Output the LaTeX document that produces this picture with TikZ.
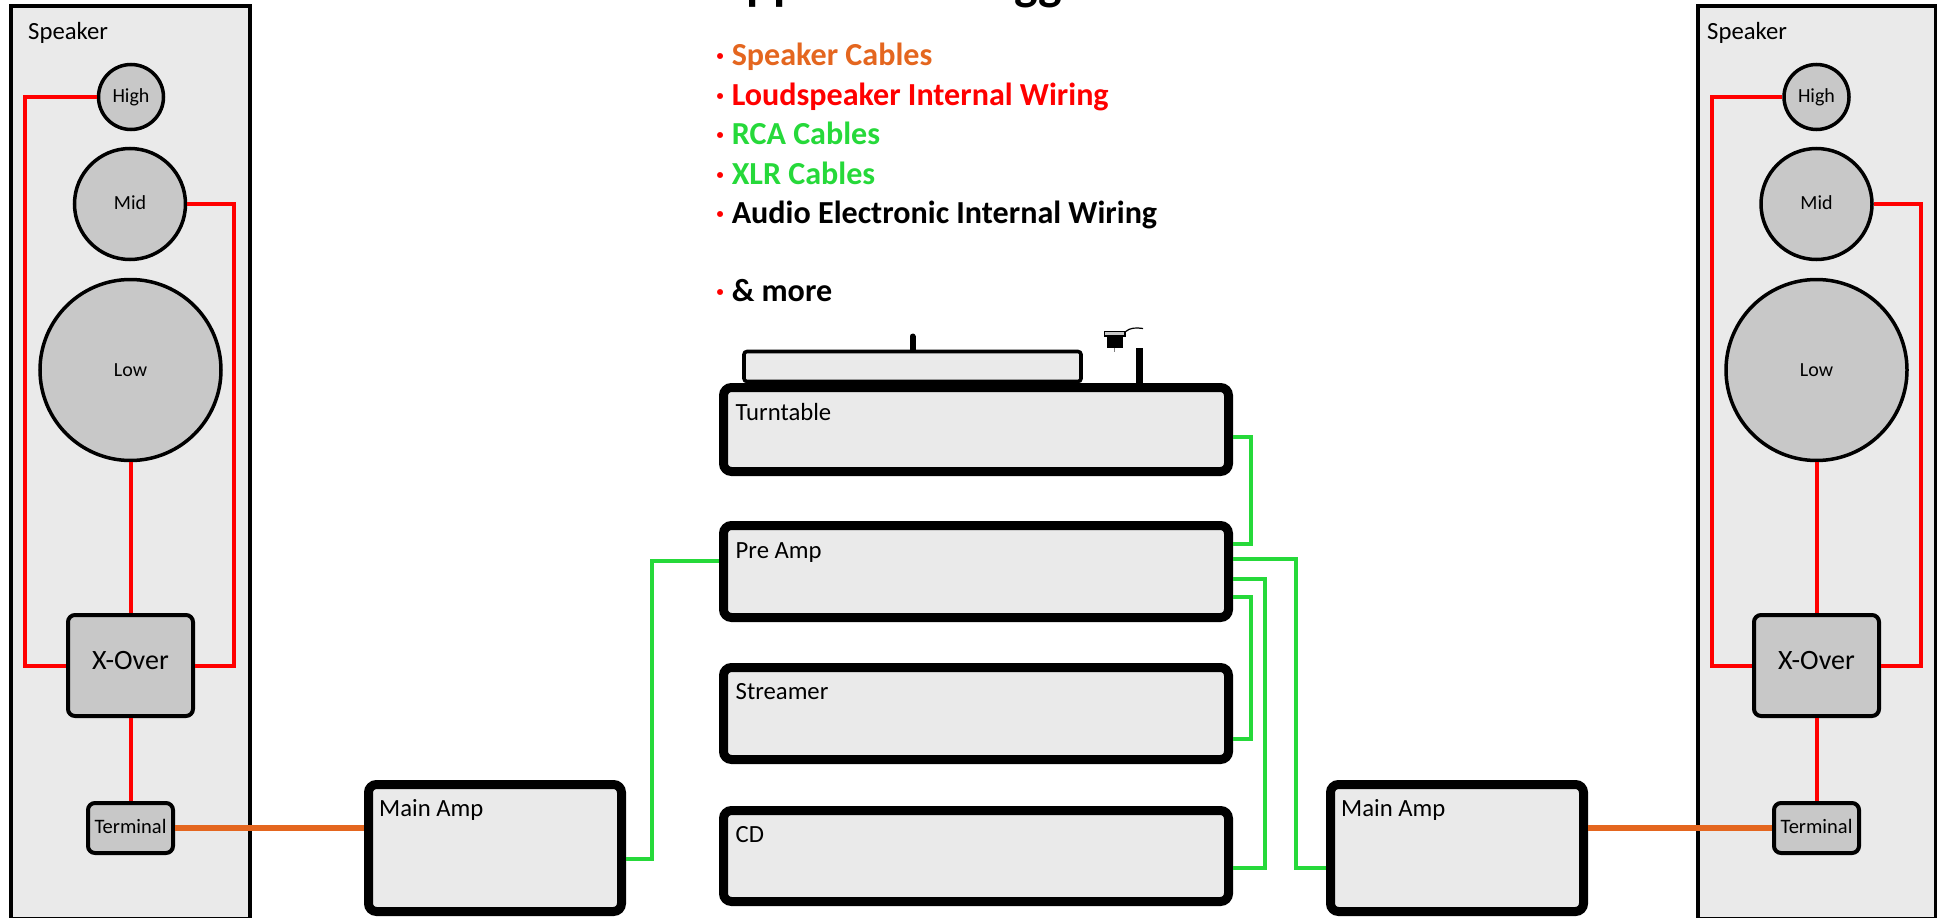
\documentclass[tikz,border=0pt]{standalone}
\usepackage{fontspec}
\setmainfont{Carlito}
\definecolor{panel}{HTML}{EAEAEA}
\definecolor{driver}{HTML}{C8C8C8}
\definecolor{wgreen}{HTML}{26D93A}
\definecolor{worange}{HTML}{E4661F}
\definecolor{wred}{HTML}{FF0000}
\newcommand{\sz}[1]{\fontsize{#1}{#1}\selectfont}
\tikzset{
  x=1pt,y=-1pt,
  cabinet/.style={draw=black,line width=3.2pt,fill=panel,inner sep=0pt},
  driverc/.style={circle,draw=black,line width=3.5pt,fill=driver,inner sep=0pt},
  hwbox/.style={rectangle,rounded corners=7pt,draw=black,line width=4pt,fill=driver,inner sep=0pt},
  unitbox/.style={rectangle,rounded corners=8pt,draw=black,line width=9pt,fill=panel,inner sep=0pt},
  lab/.style={anchor=base west,inner sep=0pt,font=\sz{24.7}},
  dlab/.style={anchor=base,inner sep=0pt,font=\sz{20}},
  leg/.style={anchor=base west,inner sep=0pt,font=\sz{32.1}\bfseries},
  redw/.style={draw=wred,line width=4pt},
  greenw/.style={draw=wgreen,line width=3.8pt},
  orangew/.style={draw=worange,line width=5.5pt},
}
\newcommand{\dotb}{\textcolor{wred}{·} }
\begin{document}
\begin{tikzpicture}
\useasboundingbox (0,0) rectangle (1939,918);
\clip (0,0) rectangle (1939,918);

% title, cut by the top edge
\node[anchor=base west,inner sep=0pt,font=\sz{50}\bfseries] (title) at (716,-0.5) {Application Suggestions};

% legend
\node[leg,text=worange] (l1) at (715.7,65.5)  {\dotb Speaker Cables};
\node[leg,text=wred]    (l2) at (715.7,105) {\dotb Loudspeaker Internal Wiring};
\node[leg,text=wgreen]  (l3) at (715.7,144) {\dotb RCA Cables};
\node[leg,text=wgreen]  (l4) at (715.7,184) {\dotb XLR Cables};
\node[leg,text=black]   (l5) at (715.7,223) {\dotb Audio Electronic Internal Wiring};
\node[leg,text=black]   (l6) at (715.7,301.5) {\dotb \& more};

% left speaker
\node[cabinet,minimum width=239pt,minimum height=913pt] (spkL) at (130.5,462.5) {};
\node[lab] (spkLt) at (28,39) {Speaker};
\node[driverc,minimum size=65pt]  (highL) at (131,97) {};
\node[driverc,minimum size=111pt] (midL)  at (130,204) {};
\node[driverc,minimum size=181pt] (lowL)  at (130.5,370) {};
\node[hwbox,minimum width=125pt,minimum height=101pt] (xoL) at (130.5,665.5) {};
\node[hwbox,minimum width=85pt,minimum height=50pt]   (teL) at (130.5,828) {};
\node[dlab] at (131,102) (highLt) {High};
\node[dlab] at (130,209) (midLt) {Mid};
\node[dlab] at (130.5,376) (lowLt) {Low};
\node[dlab,font=\sz{28}] at (130.5,669) (xoLt) {X-Over};
\node[dlab,font=\sz{20.5}] at (130.5,833) (teLt) {Terminal};
\draw[redw] (highL.west) -| (25,665.5) -- (xoL.west);
\draw[redw] (midL.east) -| (234,665.5) -- (xoL.east);
\draw[redw] (lowL.south) -- (xoL.north);
\draw[redw] (xoL.south) -- (teL.north);

% right speaker
\node[cabinet,minimum width=237.5pt,minimum height=913pt] (spkR) at (1816.75,462.5) {};
\node[lab] (spkRt) at (1707,39) {Speaker};
\node[driverc,minimum size=65pt]  (highR) at (1816.5,97) {};
\node[driverc,minimum size=111pt] (midR)  at (1816.5,204) {};
\node[driverc,minimum size=181pt] (lowR)  at (1816.5,370) {};
\node[hwbox,minimum width=125pt,minimum height=101pt] (xoR) at (1816.5,665.5) {};
\node[hwbox,minimum width=85pt,minimum height=50pt]   (teR) at (1816.5,828) {};
\node[dlab] at (1816.5,102) (highRt) {High};
\node[dlab] at (1816.5,209) (midRt) {Mid};
\node[dlab] at (1816.5,376) (lowRt) {Low};
\node[dlab,font=\sz{28}] at (1816.5,669) (xoRt) {X-Over};
\node[dlab,font=\sz{20.5}] at (1816.5,833) (teRt) {Terminal};
\draw[redw] (highR.west) -| (1712,665.5) -- (xoR.west);
\draw[redw] (midR.east) -| (1921,665.5) -- (xoR.east);
\draw[redw] (lowR.south) -- (xoR.north);
\draw[redw] (xoR.south) -- (teR.north);

% turntable top
\node[rectangle,rounded corners=3pt,draw=black,line width=3.6pt,fill=panel,inner sep=0pt,minimum width=337pt,minimum height=30pt] (platter) at (912.5,366.5) {};
\draw[line width=6pt,line cap=round] (912.5,336.5) -- (platter.north);
\draw[line width=7.5pt] (1139.5,348) -- (1139.5,386);
\fill[black] (1107,337) rectangle (1123,348);
\draw[gray,line width=1pt] (1114.5,348) -- (1114.5,352);
\draw[black,line width=1.5pt,fill=driver] (1104.5,331.5) rectangle (1125,336);
\draw[black,line width=1.2pt] (1125,332) .. controls (1130,327.5) and (1136,327.5) .. (1143,328.5);

% units
\node[unitbox,minimum width=505pt,minimum height=84pt] (tt) at (976,429.5) {};
\node[unitbox,minimum width=505pt,minimum height=92pt] (pre) at (976,571.5) {};
\node[unitbox,minimum width=505pt,minimum height=92pt] (st) at (976,713.5) {};
\node[unitbox,minimum width=505pt,minimum height=91pt] (cd) at (976,856) {};
\node[unitbox,minimum width=253pt,minimum height=127pt] (maL) at (495,848) {};
\node[unitbox,minimum width=253pt,minimum height=127pt] (maR) at (1457,848) {};
\node[lab] (ttt) at (735.5,420) {Turntable};
\node[lab] (pret) at (735.5,558) {Pre Amp};
\node[lab] (stt) at (735.5,699.5) {Streamer};
\node[lab] (cdt) at (735.5,842) {CD};
\node[lab] (maLt) at (379,816) {Main Amp};
\node[lab] (maRt) at (1341,816) {Main Amp};

% cables
\draw[orangew] (teL.east |- 0,828) -- (maL.west |- 0,828);
\draw[orangew] (maR.east |- 0,828) -- (teR.west |- 0,828);
\draw[greenw] (tt.east |- 0,437) -| (1251,544) -- (pre.east |- 0,544);
\draw[greenw] (pre.east |- 0,559) -| (1296,868) -- (maR.west |- 0,868);
\draw[greenw] (pre.east |- 0,579) -| (1265,868) -- (cd.east |- 0,868);
\draw[greenw] (pre.east |- 0,597) -| (1251,739) -- (st.east |- 0,739);
\draw[greenw] (pre.west |- 0,561) -| (652,859) -- (maL.east |- 0,859);
\end{tikzpicture}
\end{document}
